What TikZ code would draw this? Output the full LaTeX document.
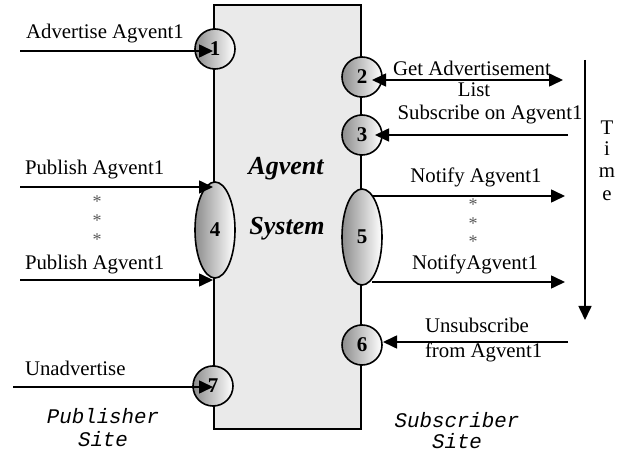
\documentclass[tikz,border=0pt]{standalone}
\usepackage{fontspec}
\setmainfont{Liberation Serif}
\setmonofont{Liberation Mono}
\usetikzlibrary{arrows.meta,shapes.geometric}
\definecolor{boxfill}{HTML}{EAEAEA}
\begin{document}
\begin{tikzpicture}[x=1pt,y=-1pt,
  every node/.style={inner sep=0pt,outer sep=0pt,font=\fontsize{20.8}{24}\selectfont},
  ball/.style={circle,draw=black,line width=1.6pt,minimum size=40pt,left color=black!45,right color=white,font=\fontsize{21}{24}\selectfont\bfseries},
  egg/.style={ellipse,draw=black,line width=1.6pt,minimum width=40pt,minimum height=96pt,left color=black!45,right color=white,font=\fontsize{21}{24}\selectfont\bfseries},
  arr/.style={line width=1.6pt,-{Triangle[length=14pt,width=13pt]}},
  darr/.style={line width=1.6pt,{Triangle[length=14pt,width=13pt]}-{Triangle[length=14pt,width=13pt]}},
  lbl/.style={anchor=base},
  lblw/.style={anchor=base west},
  star/.style={text=black!65,font=\fontsize{18}{20}\selectfont},
  big/.style={anchor=base,font=\fontsize{26}{30}\selectfont\bfseries\itshape},
  site/.style={anchor=base,font=\fontsize{20.8}{24}\selectfont\ttfamily\itshape}]
\useasboundingbox (0,0) rectangle (624,454);
% system box
\node[draw=black,line width=1.6pt,fill=boxfill,minimum width=147pt,minimum height=424pt,anchor=north west] (sys) at (214,5) {};
\node[big] (agv) at (286,175) {Agvent};
\node[big] (sysl) at (287,235) {System};
% ports
\node[ball] (c1) at (215,49) {1};
\node[ball] (c2) at (362,77) {2};
\node[ball] (c3) at (362,135) {3};
\node[egg] (e4) at (215,230) {4};
\node[egg] (e5) at (362,237) {5};
\node[ball] (c6) at (362,345) {6};
\node[ball] (c7) at (213,386) {7};
% free ends
\coordinate (s1) at (20,51);
\coordinate (t1) at (213,51);
\coordinate (t2a) at (372,80);
\coordinate (t2b) at (563,80);
\coordinate (s3) at (568,135);
\coordinate (t3) at (375,135);
\coordinate (s4a) at (20,187);
\coordinate (t4a) at (213,187);
\coordinate (s4b) at (20,280);
\coordinate (t4b) at (213,280);
\coordinate (s5a) at (372,196);
\coordinate (t5a) at (565,196);
\coordinate (s5b) at (372,282);
\coordinate (t5b) at (565,282);
\coordinate (s6) at (568,342);
\coordinate (t6) at (383,342);
\coordinate (s7) at (13,387);
\coordinate (t7) at (213,387);
\coordinate (ts) at (585,60);
\coordinate (te) at (585,320);
% connectors
\draw[arr] (s1) -- (t1);
\draw[darr] (t2a) -- (t2b);
\draw[arr] (s3) -- (t3);
\draw[arr] (s4a) -- (t4a);
\draw[arr] (s4b) -- (t4b);
\draw[arr] (s5a) -- (t5a);
\draw[arr] (s5b) -- (t5b);
\draw[arr] (s6) -- (t6);
\draw[arr] (s7) -- (t7);
\draw[arr] (ts) -- (te);
% labels
\node[lbl] (l1) at (105,39) {Advertise Agvent1};
\node[lbl] (l2a) at (472,76) {Get Advertisement};
\node[lbl] (l2b) at (474,97) {List};
\node[lbl] (l3) at (490,120) {Subscribe on Agvent1};
\node[lblw] (l4a) at (25,175) {Publish Agvent1};
\node[star] (a4a) at (97,202) {*};
\node[star] (a4b) at (97,221) {*};
\node[star] (a4c) at (97,240) {*};
\node[lblw] (l4b) at (25,270) {Publish Agvent1};
\node[lbl] (l5a) at (476,183) {Notify Agvent1};
\node[star] (a5a) at (473,205) {*};
\node[star] (a5b) at (473,224) {*};
\node[star] (a5c) at (473,242) {*};
\node[lbl] (l5b) at (475,270) {NotifyAgvent1};
\node[lblw] (l6a) at (425,333) {Unsubscribe};
\node[lblw] (l6b) at (425,358) {from Agvent1};
\node[lblw] (l7) at (25,375) {Unadvertise};
\node[lbl] (tT) at (607,135) {T};
\node[lbl] (ti) at (607,156) {i};
\node[lbl] (tm) at (607,178) {m};
\node[lbl] (tE) at (607,201) {e};
\node[site] (p1) at (103,423) {Publisher};
\node[site] (p2) at (103,446) {Site};
\node[site] (q1) at (457,427) {Subscriber};
\node[site] (q2) at (457,448) {Site};
\end{tikzpicture}
\end{document}
